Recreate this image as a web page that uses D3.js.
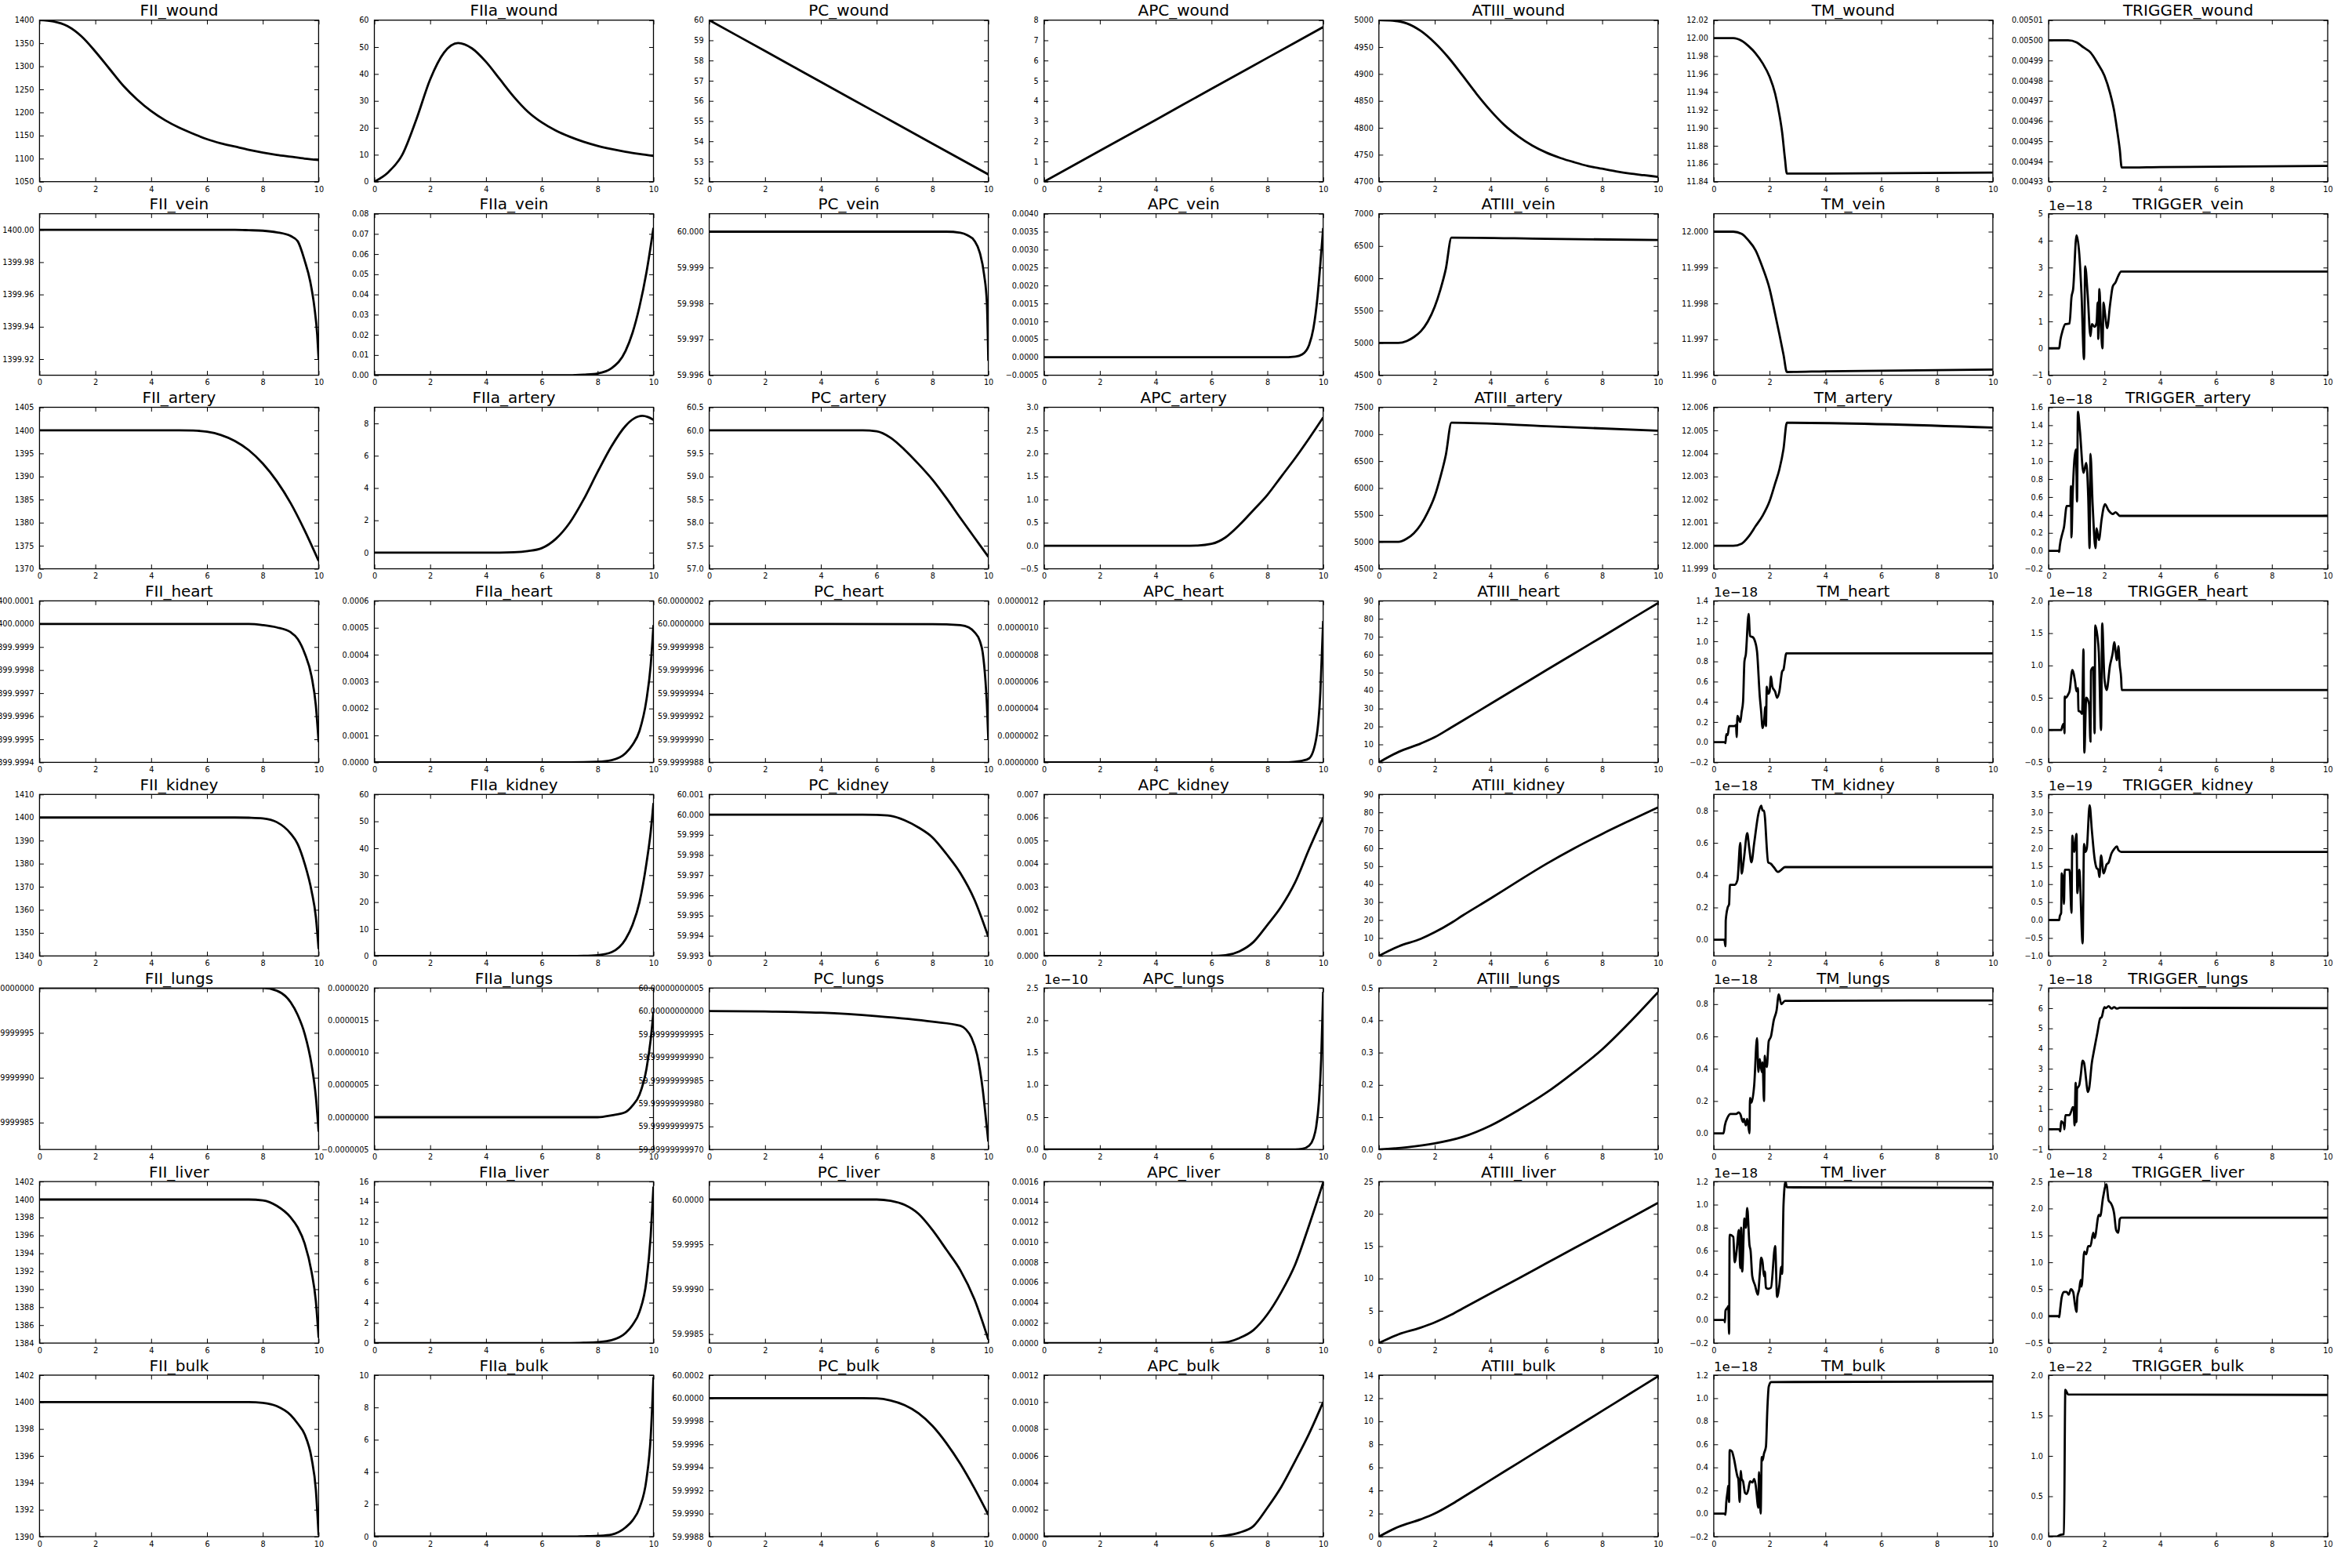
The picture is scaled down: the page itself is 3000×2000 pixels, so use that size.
<!DOCTYPE html>
<html><head><meta charset="utf-8">
<script src="https://cdn.jsdelivr.net/npm/d3@7"></script>
<style>body{margin:0;background:#fff}svg{display:block}</style>
</head><body>
<script>
// ---------------- DATA ----------------
const rowNames = ["wound","vein","artery","heart","kidney","lungs","liver","bulk"];
const colNames = ["FII","FIIa","PC","APC","ATIII","TM","TRIGGER"];
const xTicks = [0,2,4,6,8,10];

// per-panel y axis (row-major: rows wound..bulk, cols FII..TRIGGER)
const yMin = [
 1050,0,52,0,4700,11.84,0.00493,
 1399.91,0,59.996,-0.0005,4500,11.996,-1,
 1370,-1,57,-0.5,4500,11.999,-0.2,
 1399.9994,0,59.9999988,0,0,-0.2,-0.5,
 1340,0,59.993,0,0,-0.1,-1,
 1399.9999982,-0.0000005,59.9999999997,0,0,-0.1,-1,
 1384,0,59.9984,0,0,-0.2,-0.5,
 1390,0,59.9988,0,0,-0.2,0];
const yMax = [
 1400,60,60,8,5000,12.02,0.00501,
 1400.01,0.08,60.0005,0.004,7000,12.0005,5,
 1405,9,60.5,3,7500,12.006,1.6,
 1400.0001,0.0006,60.0000002,0.0000012,90,1.4,2.0,
 1410,60,60.001,0.007,90,0.9,3.5,
 1400.0000000,0.000002,60.00000000005,2.5,0.5,0.9,7,
 1402,16,60.0002,0.0016,25,1.2,2.5,
 1402,10,60.0002,0.0012,14,1.2,2.0];
const tickStart = [
 1050,0,52,0,4700,11.84,0.00493,
 1399.92,0,59.996,-0.0005,4500,11.996,-1,
 1370,0,57,-0.5,4500,11.999,-0.2,
 1399.9994,0,59.9999988,0,0,-0.2,-0.5,
 1340,0,59.993,0,0,0,-1,
 1399.9999985,-0.0000005,59.9999999997,0,0,0,-1,
 1384,0,59.9985,0,0,-0.2,-0.5,
 1390,0,59.9988,0,0,-0.2,0];
const tickStep = [
 50,10,1,1,50,0.02,0.00001,
 0.02,0.01,0.001,0.0005,500,0.001,1,
 5,2,0.5,0.5,500,0.001,0.2,
 0.0001,0.0001,0.0000002,0.0000002,10,0.2,0.5,
 10,10,0.001,0.001,10,0.2,0.5,
 0.0000005,0.0000005,0.00000000005,0.5,0.1,0.2,1,
 2,2,0.0005,0.0002,5,0.2,0.5,
 2,2,0.0002,0.0002,2,0.2,0.5];
const tickCount = [
 8,7,9,9,7,10,9,
 5,9,5,10,6,5,7,
 8,5,8,8,7,8,10,
 8,7,8,7,10,9,6,
 8,7,9,8,10,5,10,
 4,6,8,6,6,5,9,
 10,9,4,9,6,8,7,
 7,6,8,7,8,8,5];
const tickDecimals = [
 0,0,0,0,0,2,5,
 2,2,3,4,0,3,0,
 0,0,1,1,0,3,1,
 4,4,7,7,0,1,1,
 0,0,3,3,0,1,1,
 7,7,11,1,1,1,0,
 0,0,4,4,0,1,1,
 0,0,4,4,0,1,1];
const offsetLabels = [
 "","","","","","","",
 "","","","","","","1e\u221218",
 "","","","","","","1e\u221218",
 "","","","","","1e\u221218","1e\u221218",
 "","","","","","1e\u221218","1e\u221219",
 "","","","1e\u221210","","1e\u221218","1e\u221218",
 "","","","","","1e\u221218","1e\u221218",
 "","","","","","1e\u221218","1e\u221222"];

// ----- series: [time, value] (values in units of offset label where present) -----
const FII_wound = [[0,1400],[0.5,1397],[1,1387],[1.5,1365],[2,1332],[2.5,1295],[3,1258],[3.5,1228],[4,1203],[4.5,1183],[5,1167],[5.5,1154],[6,1142],[6.5,1133],[7,1126],[7.5,1119],[8,1113],[8.5,1108],[9,1104],[9.5,1100],[10,1097]];
const FIIa_wound = [[0,0],[0.5,3.5],[1,10],[1.5,23],[2,38],[2.5,48],[3,51.5],[3.5,49.5],[4,44.5],[4.5,38],[5,31.5],[5.5,26],[6,22],[6.5,19],[7,16.7],[7.5,14.8],[8,13.3],[8.5,12.1],[9,11.1],[9.5,10.3],[10,9.6]];
const PC_wound = [[0,60],[2,58.47],[4,56.94],[6,55.41],[8,53.88],[10,52.36]];
const APC_wound = [[0,0],[2,1.53],[4,3.06],[6,4.6],[8,6.13],[10,7.66]];
const ATIII_wound = [[0,5000],[0.5,4999],[1,4994],[1.5,4980],[2,4958],[2.5,4930],[3,4897],[3.5,4863],[4,4832],[4.5,4805],[5,4784],[5.5,4767],[6,4754],[6.5,4744],[7,4736],[7.5,4729],[8,4724],[8.5,4719],[9,4715],[9.5,4712],[10,4709]];
const TM_wound = [[0,12.0],[0.7,12.0],[1,11.997],[1.25,11.991],[1.5,11.983],[1.75,11.972],[2,11.957],[2.2,11.938],[2.35,11.915],[2.45,11.895],[2.55,11.866],[2.62,11.849],[4,11.8491],[10,11.8502]];
const TRIGGER_wound = [[0,0.005],[0.7,0.005],[1,0.004999],[1.25,0.0049965],[1.5,0.004994],[1.75,0.0049888],[2,0.0049825],[2.2,0.004974],[2.35,0.004965],[2.45,0.004956],[2.55,0.004946],[2.62,0.004937],[4,0.0049372],[10,0.0049378]];

const FII_vein = [[0,1400],[7,1400],[7.5,1399.9998],[8,1399.9995],[8.5,1399.9985],[9,1399.9962],[9.25,1399.993],[9.5,1399.981],[9.7,1399.968],[9.85,1399.952],[9.95,1399.935],[10,1399.92]];
const FIIa_vein = [[0,0],[7,0],[7.5,0.0003],[8,0.0009],[8.5,0.0035],[9,0.012],[9.25,0.021],[9.5,0.034],[9.75,0.051],[10,0.073]];
const PC_vein = [[0,60],[8.5,60],[9,59.99997],[9.25,59.9999],[9.5,59.99975],[9.7,59.9994],[9.85,59.9988],[9.95,59.998],[10,59.9964]];
const APC_vein = [[0,0],[8.5,0],[9,0.00002],[9.25,0.00008],[9.5,0.00035],[9.65,0.0008],[9.8,0.0017],[9.9,0.0026],[10,0.0036]];
const ATIII_vein = [[0,5000],[0.7,5000],[1,5030],[1.25,5090],[1.5,5180],[1.75,5330],[2,5560],[2.2,5820],[2.4,6150],[2.6,6630],[6,6612],[10,6592]];
const TM_vein = [[0,12.0],[0.7,12.0],[1,11.99994],[1.25,11.99975],[1.5,11.99948],[1.75,11.9990],[2,11.99841],[2.2,11.9977],[2.35,11.99715],[2.5,11.99657],[2.62,11.99609],[4,11.99611],[10,11.99616]];
const TRIGGER_vein = [[0,0],[0.38,0],[0.42,0.3],[0.5,0.65],[0.6,0.9],[0.75,0.92],[0.82,1.9],[0.88,2.2],[1.0,4.2],[1.1,3.5],[1.18,2.0],[1.27,-0.4],[1.31,3.05],[1.4,2.0],[1.5,0.45],[1.55,0.9],[1.65,0.8],[1.72,0.95],[1.76,1.7],[1.78,0.35],[1.82,2.2],[1.88,0.7],[1.93,0.0],[1.97,1.7],[2.02,1.3],[2.1,0.75],[2.2,1.6],[2.3,2.3],[2.4,2.45],[2.5,2.7],[2.6,2.85],[10,2.85]];

const FII_artery = [[0,1400],[5,1400],[5.5,1399.95],[6,1399.7],[6.5,1399],[7,1397.7],[7.5,1395.7],[8,1392.8],[8.5,1389],[9,1384.2],[9.5,1378.3],[10,1371.7]];
const FIIa_artery = [[0,0],[4,0],[5,0.03],[5.5,0.1],[6,0.28],[6.5,0.85],[7,1.85],[7.5,3.3],[8,5.0],[8.5,6.6],[9,7.85],[9.3,8.3],[9.6,8.47],[9.8,8.4],[10,8.22]];
const PC_artery = [[0,60],[5.5,60],[6,59.98],[6.5,59.84],[7,59.58],[7.5,59.27],[8,58.93],[8.5,58.53],[9,58.1],[9.5,57.68],[10,57.26]];
const APC_artery = [[0,0],[5,0],[5.5,0.005],[6,0.04],[6.5,0.18],[7,0.45],[7.5,0.77],[8,1.1],[8.5,1.5],[9,1.9],[9.5,2.33],[10,2.78]];
const ATIII_artery = [[0,5000],[0.7,5000],[1,5060],[1.25,5160],[1.5,5320],[1.75,5550],[2,5850],[2.2,6200],[2.4,6620],[2.6,7215],[6,7150],[10,7065]];
const TM_artery = [[0,12.0],[0.7,12.0],[1,12.00009],[1.25,12.0004],[1.5,12.00085],[1.75,12.0013],[2,12.00193],[2.2,12.0027],[2.35,12.0033],[2.5,12.0042],[2.62,12.00533],[10,12.00512]];
const TRIGGER_artery = [[0,0],[0.35,0],[0.38,-0.01],[0.4,0.05],[0.5,0.2],[0.55,0.26],[0.65,0.5],[0.78,0.5],[0.8,0.72],[0.82,0.15],[0.86,0.6],[0.98,1.13],[1.02,0.55],[1.05,1.55],[1.12,1.35],[1.25,0.87],[1.35,0.98],[1.42,0.6],[1.47,0.03],[1.5,1.08],[1.58,0.5],[1.68,0.03],[1.72,0.25],[1.8,0.12],[1.9,0.35],[1.97,0.48],[2.02,0.52],[2.15,0.45],[2.3,0.41],[2.4,0.43],[2.55,0.39],[10,0.39]];

const FII_heart = [[0,1400],[7.5,1400],[8,1399.999995],[8.5,1399.999985],[9,1399.999964],[9.25,1399.999935],[9.5,1399.999873],[9.75,1399.999771],[9.9,1399.999647],[10,1399.999488]];
const FIIa_heart = [[0,0],[7,0],[8,0.000002],[8.5,0.000008],[9,0.000034],[9.25,0.000065],[9.5,0.000117],[9.75,0.000233],[9.9,0.00036],[10,0.00051]];
const PC_heart = [[0,60],[8,59.999999998],[9,59.99999999],[9.3,59.99999997],[9.5,59.99999993],[9.7,59.99999985],[9.8,59.99999975],[9.9,59.9999995],[9.95,59.9999993],[10,59.999999]];
const APC_heart = [[0,0],[8.5,0],[9,5e-9],[9.25,1.2e-8],[9.5,3e-8],[9.75,1.75e-7],[9.9,5.2e-7],[10,1.05e-6]];
const ATIII_heart = [[0,0],[0.7,5.8],[1.5,10.5],[2,14],[2.6,19.5],[3,23.2],[4,32.6],[5,42],[6,51.4],[7,60.7],[8,70],[9,79.4],[10,88.8]];
const TM_heart = [[0,0],[0.4,0],[0.42,-0.01],[0.45,0.08],[0.5,0.07],[0.55,0.16],[0.75,0.16],[0.8,0.17],[0.82,0.05],[0.85,0.26],[0.95,0.2],[1.0,0.3],[1.05,0.4],[1.1,0.8],[1.15,0.87],[1.25,1.27],[1.3,1.05],[1.4,1.04],[1.45,1.02],[1.55,0.9],[1.65,0.45],[1.7,0.3],[1.75,0.14],[1.8,0.2],[1.85,0.35],[1.87,0.16],[1.9,0.55],[1.95,0.48],[2.0,0.5],[2.05,0.65],[2.1,0.55],[2.2,0.5],[2.27,0.44],[2.35,0.5],[2.45,0.7],[2.5,0.72],[2.6,0.88],[10,0.88]];
const TRIGGER_heart = [[0,0],[0.45,0],[0.5,0.07],[0.55,0.1],[0.57,-0.05],[0.58,0.52],[0.62,0.5],[0.7,0.55],[0.75,0.6],[0.85,0.93],[0.95,0.75],[1.0,0.6],[1.05,0.65],[1.07,0.3],[1.15,0.28],[1.2,0.25],[1.25,1.25],[1.28,-0.35],[1.35,0.5],[1.45,0.4],[1.5,-0.18],[1.52,0.92],[1.6,0.97],[1.65,-0.05],[1.67,1.62],[1.75,1.45],[1.8,1.2],[1.88,0.0],[1.92,1.65],[2.0,0.8],[2.08,0.62],[2.2,1.0],[2.3,1.2],[2.35,1.36],[2.45,1.08],[2.5,1.3],[2.55,1.0],[2.6,0.8],[2.62,0.62],[10,0.62]];

const FII_kidney = [[0,1400],[7,1400],[7.5,1399.9],[8,1399.6],[8.5,1398],[9,1393],[9.25,1388.5],[9.5,1380],[9.75,1368],[9.9,1357],[10,1343]];
const FIIa_kidney = [[0,0],[7,0],[7.5,0.05],[8,0.3],[8.5,1.4],[9,6.2],[9.25,11.5],[9.5,20],[9.75,34.5],[9.9,46],[10,56.8]];
const PC_kidney = [[0,60],[5.5,60],[6,59.99999],[6.5,59.99994],[7,59.99972],[7.5,59.99936],[8,59.99887],[8.5,59.99805],[9,59.9971],[9.5,59.9958],[10,59.99395]];
const APC_kidney = [[0,0],[6,0],[6.5,0.00003],[7,0.0002],[7.5,0.0006],[8,0.00134],[8.5,0.00214],[9,0.0032],[9.5,0.00464],[10,0.006]];
const ATIII_kidney = [[0,0],[0.7,5.3],[1.5,9.5],[2,13.2],[2.6,18.5],[3,22.5],[4,32],[5,41.8],[6,51.3],[7,60],[8,68],[9,75.5],[10,82.8]];
const TM_kidney = [[0,0],[0.38,0],[0.42,-0.04],[0.43,0.12],[0.5,0.2],[0.55,0.22],[0.58,0.34],[0.75,0.34],[0.85,0.37],[0.95,0.6],[1.0,0.41],[1.08,0.5],[1.2,0.66],[1.27,0.57],[1.35,0.48],[1.45,0.6],[1.6,0.78],[1.7,0.83],[1.75,0.8],[1.8,0.8],[1.95,0.48],[2.05,0.47],[2.15,0.45],[2.3,0.42],[2.4,0.43],[2.55,0.45],[10,0.45]];
const TRIGGER_kidney = [[0,0],[0.38,0],[0.4,0.1],[0.45,0.2],[0.47,1.3],[0.52,1.1],[0.55,0.45],[0.58,1.4],[0.75,1.4],[0.82,0.2],[0.85,2.35],[0.92,1.9],[1.0,2.4],[1.03,0.75],[1.1,1.4],[1.22,-0.65],[1.27,2.12],[1.32,1.9],[1.37,2.0],[1.47,3.2],[1.55,2.5],[1.65,1.7],[1.72,1.45],[1.78,1.4],[1.82,1.2],[1.88,1.8],[1.97,1.3],[2.08,1.55],[2.15,1.6],[2.25,1.85],[2.35,1.98],[2.45,2.05],[2.5,1.95],[2.6,1.9],[10,1.9]];

const FII_lungs = [[0,1400],[8,1400],[8.5,1399.99999997],[9,1399.99999984],[9.25,1399.9999997],[9.5,1399.99999949],[9.75,1399.99999914],[9.9,1399.99999879],[10,1399.9999984]];
const FIIa_lungs = [[0,0],[8,0],[8.5,3e-8],[9,8e-8],[9.25,1.8e-7],[9.5,3.5e-7],[9.75,7.5e-7],[9.9,1.2e-6],[10,1.63e-6]];
const PC_lungs = [[0,60],[2,59.999999999999],[4,59.9999999999965],[6,59.999999999989],[8,59.999999999977],[9,59.999999999968],[9.2,59.99999999996],[9.4,59.999999999942],[9.6,59.999999999905],[9.8,59.99999999983],[9.9,59.999999999775],[10,59.999999999717]];
const APC_lungs = [[0,0],[9,0],[9.25,0.01],[9.5,0.06],[9.65,0.17],[9.75,0.35],[9.85,0.75],[9.93,1.4],[10,2.44]];
const ATIII_lungs = [[0,0],[1,0.007],[2,0.019],[3,0.039],[4,0.074],[5,0.122],[6,0.176],[7,0.24],[8,0.31],[9,0.395],[10,0.487]];
const TM_lungs = [[0,0],[0.35,0],[0.4,0.05],[0.5,0.1],[0.6,0.12],[0.8,0.12],[0.9,0.13],[0.95,0.12],[1.05,0.07],[1.08,0.09],[1.15,0.05],[1.2,0.09],[1.28,0.0],[1.3,0.22],[1.35,0.19],[1.45,0.3],[1.55,0.59],[1.6,0.38],[1.65,0.46],[1.72,0.38],[1.75,0.44],[1.8,0.2],[1.83,0.48],[1.85,0.45],[1.9,0.41],[1.97,0.57],[2.05,0.6],[2.15,0.7],[2.25,0.76],[2.33,0.86],[2.42,0.8],[2.55,0.82],[10,0.823]];
const TRIGGER_lungs = [[0,0],[0.38,0],[0.42,-0.1],[0.45,0.4],[0.55,0.2],[0.57,0.0],[0.6,0.7],[0.75,0.7],[0.8,0.85],[0.87,1.1],[0.9,1.05],[0.93,0.2],[0.97,2.3],[1.0,0.35],[1.02,2.0],[1.1,2.2],[1.15,2.65],[1.22,3.4],[1.27,3.3],[1.35,2.4],[1.4,1.85],[1.45,2.0],[1.55,3.3],[1.62,3.85],[1.75,4.8],[1.85,5.5],[1.9,5.55],[2.0,6.05],[2.05,6.0],[2.15,6.1],[2.25,5.98],[2.35,6.05],[2.45,5.98],[2.55,6.02],[10,6.0]];

const FII_liver = [[0,1400],[7.5,1400],[8,1399.9],[8.5,1399.3],[9,1398.0],[9.25,1396.9],[9.5,1395.1],[9.75,1391.9],[9.9,1388.7],[10,1384.6]];
const FIIa_liver = [[0,0],[7,0],[7.5,0.03],[8,0.1],[8.5,0.29],[9,1.0],[9.25,1.8],[9.5,3.1],[9.75,6.2],[9.9,10.6],[10,15.5]];
const PC_liver = [[0,60],[6,60],[6.5,59.999985],[7,59.99994],[7.5,59.99984],[8,59.99966],[8.5,59.99944],[9,59.99921],[9.5,59.99889],[10,59.99844]];
const APC_liver = [[0,0],[6,0],[6.5,0.000008],[7,0.00005],[7.5,0.000128],[8,0.000284],[8.5,0.000505],[9,0.00078],[9.5,0.00117],[10,0.00159]];
const ATIII_liver = [[0,0],[0.7,1.35],[1.5,2.4],[2,3.2],[2.6,4.4],[3,5.35],[4,7.7],[5,10.0],[6,12.35],[7,14.7],[8,17.0],[9,19.35],[10,21.7]];
const TM_liver = [[0,0],[0.38,0],[0.4,-0.02],[0.42,0.08],[0.5,0.11],[0.52,0.12],[0.55,-0.12],[0.57,0.74],[0.7,0.72],[0.75,0.5],[0.82,0.6],[0.9,0.78],[0.95,0.45],[0.98,0.8],[1.02,0.42],[1.1,0.88],[1.15,0.8],[1.2,0.97],[1.28,0.65],[1.32,0.6],[1.38,0.38],[1.48,0.3],[1.58,0.22],[1.65,0.4],[1.7,0.54],[1.75,0.5],[1.8,0.38],[1.83,0.42],[1.87,0.28],[1.95,0.27],[2.05,0.28],[2.2,0.64],[2.27,0.2],[2.35,0.3],[2.42,0.46],[2.45,0.4],[2.5,1.0],[2.57,1.2],[2.62,1.15],[10,1.145]];
const TRIGGER_liver = [[0,0],[0.35,0],[0.38,-0.02],[0.42,0.15],[0.47,0.35],[0.55,0.45],[0.65,0.45],[0.72,0.4],[0.8,0.5],[0.88,0.45],[0.95,0.2],[1.0,0.08],[1.03,0.35],[1.1,0.5],[1.15,0.67],[1.18,0.55],[1.28,1.2],[1.35,1.15],[1.42,1.3],[1.5,1.3],[1.6,1.55],[1.65,1.45],[1.8,1.88],[1.85,1.86],[1.95,2.2],[2.07,2.45],[2.15,2.15],[2.23,2.1],[2.35,1.9],[2.42,1.6],[2.5,1.55],[2.55,1.8],[2.6,1.83],[10,1.83]];

const FII_bulk = [[0,1400],[7.5,1400],[8,1399.94],[8.5,1399.7],[9,1399.03],[9.25,1398.4],[9.5,1397.6],[9.75,1395.8],[9.9,1393.5],[10,1390.1]];
const FIIa_bulk = [[0,0],[7,0],[7.5,0.02],[8,0.05],[8.5,0.13],[9,0.57],[9.25,1.0],[9.5,1.78],[9.75,3.56],[9.9,6.15],[10,9.87]];
const PC_bulk = [[0,60],[5.5,60],[6,59.999998],[6.5,59.99998],[7,59.99994],[7.5,59.99987],[8,59.99976],[8.5,59.99961],[9,59.99943],[9.5,59.99922],[10,59.99899]];
const APC_bulk = [[0,0],[6,0],[6.5,0.000008],[7,0.00003],[7.5,0.000078],[8,0.000214],[8.5,0.00037],[9,0.000563],[9.5,0.000767],[10,0.001]];
const ATIII_bulk = [[0,0],[0.7,0.85],[1.5,1.5],[2,2.0],[2.6,2.8],[3,3.4],[4,4.9],[5,6.4],[6,7.9],[7,9.4],[8,10.9],[9,12.4],[10,13.9]];
const TM_bulk = [[0,0],[0.38,0],[0.42,-0.01],[0.45,0.1],[0.5,0.2],[0.52,0.24],[0.55,0.1],[0.57,0.55],[0.65,0.54],[0.72,0.48],[0.85,0.32],[0.88,0.3],[0.93,0.1],[0.97,0.37],[1.0,0.3],[1.05,0.28],[1.12,0.18],[1.18,0.17],[1.23,0.2],[1.3,0.28],[1.38,0.27],[1.45,0.3],[1.5,0.25],[1.6,0.05],[1.62,0.36],[1.68,0.0],[1.72,0.49],[1.75,0.46],[1.8,0.52],[1.87,0.58],[1.92,0.9],[1.97,1.1],[2.05,1.14],[10,1.145]];
const TRIGGER_bulk = [[0,0],[0.3,0],[0.35,0.01],[0.4,0.02],[0.55,0.03],[0.6,1.82],[0.65,1.79],[0.7,1.76],[10,1.755]];

const seriesTable = {
 FII_wound,FIIa_wound,PC_wound,APC_wound,ATIII_wound,TM_wound,TRIGGER_wound,
 FII_vein,FIIa_vein,PC_vein,APC_vein,ATIII_vein,TM_vein,TRIGGER_vein,
 FII_artery,FIIa_artery,PC_artery,APC_artery,ATIII_artery,TM_artery,TRIGGER_artery,
 FII_heart,FIIa_heart,PC_heart,APC_heart,ATIII_heart,TM_heart,TRIGGER_heart,
 FII_kidney,FIIa_kidney,PC_kidney,APC_kidney,ATIII_kidney,TM_kidney,TRIGGER_kidney,
 FII_lungs,FIIa_lungs,PC_lungs,APC_lungs,ATIII_lungs,TM_lungs,TRIGGER_lungs,
 FII_liver,FIIa_liver,PC_liver,APC_liver,ATIII_liver,TM_liver,TRIGGER_liver,
 FII_bulk,FIIa_bulk,PC_bulk,APC_bulk,ATIII_bulk,TM_bulk,TRIGGER_bulk};

// ---------------- LAYOUT ----------------
const W = 3000, H = 2000;
const left0 = 50.4, colStep = 427.1, PW = 356;
const top0 = 25.7, rowStep = 246.9, PH = 206;
const FONT = "DejaVu Sans";

const svg = d3.select("body").append("svg").attr("width", W).attr("height", H);
svg.append("rect").attr("width", W).attr("height", H).attr("fill", "#fff");
const defs = svg.append("defs");

const x = d3.scaleLinear().domain([0, 10]).range([0, PW]);
const fmtMinus = s => s.replace("-", "\u2212");

rowNames.forEach((rn, r) => {
  colNames.forEach((cn, c) => {
    const i = r * colNames.length + c;
    const name = cn + "_" + rn;
    const data = seriesTable[name];
    const g = svg.append("g").attr("transform", `translate(${left0 + c*colStep},${top0 + r*rowStep})`);
    const y = d3.scaleLinear().domain([yMin[i], yMax[i]]).range([PH, 0]);

    const clipId = "clip" + i;
    defs.append("clipPath").attr("id", clipId)
      .append("rect").attr("x", 0).attr("y", 0).attr("width", PW).attr("height", PH);

    const line = d3.line().x(d => x(d[0])).y(d => y(d[1])).curve(d3.curveMonotoneX);
    g.append("path").datum(data).attr("d", line)
      .attr("fill", "none").attr("stroke", "#000").attr("stroke-width", 2.8)
      .attr("stroke-linejoin", "round").attr("clip-path", `url(#${clipId})`);

    const dec = tickDecimals[i];
    const yt = d3.range(tickCount[i]).map(k => +(tickStart[i] + k*tickStep[i]).toFixed(dec + 3));
    const yfmt = d => { let v = Math.abs(d) < tickStep[i]*1e-6 ? 0 : d; return fmtMinus(v.toFixed(dec)); };

    const styleAxis = sel => {
      sel.select(".domain").remove();
      sel.selectAll(".tick line").attr("stroke", "#000").attr("stroke-width", 1);
      sel.selectAll("text").attr("font-family", FONT).attr("font-size", 9.7).attr("fill", "#000");
    };

    g.append("g").attr("transform", `translate(0,${PH})`)
      .call(d3.axisBottom(x).tickValues(xTicks).tickSize(-5.5).tickPadding(6).tickFormat(d3.format("d")))
      .call(styleAxis);
    g.append("g")
      .call(d3.axisTop(x).tickValues(xTicks).tickSize(-5.5).tickFormat(""))
      .call(styleAxis);
    g.append("g")
      .call(d3.axisLeft(y).tickValues(yt).tickSize(-5.5).tickPadding(7).tickFormat(yfmt))
      .call(styleAxis);
    g.append("g").attr("transform", `translate(${PW},0)`)
      .call(d3.axisRight(y).tickValues(yt).tickSize(-5.5).tickFormat(""))
      .call(styleAxis);

    g.append("rect").attr("width", PW).attr("height", PH)
      .attr("fill", "none").attr("stroke", "#000").attr("stroke-width", 1.3);

    g.append("text").attr("x", PW/2).attr("y", -5.5).attr("text-anchor", "middle")
      .attr("font-family", FONT).attr("font-size", 20).attr("fill", "#000").text(name);

    if (offsetLabels[i]) {
      g.append("text").attr("x", 0).attr("y", -5).attr("text-anchor", "start")
        .attr("font-family", FONT).attr("font-size", 16.7).attr("fill", "#000").text(offsetLabels[i]);
    }
  });
});
</script>
</body></html>
